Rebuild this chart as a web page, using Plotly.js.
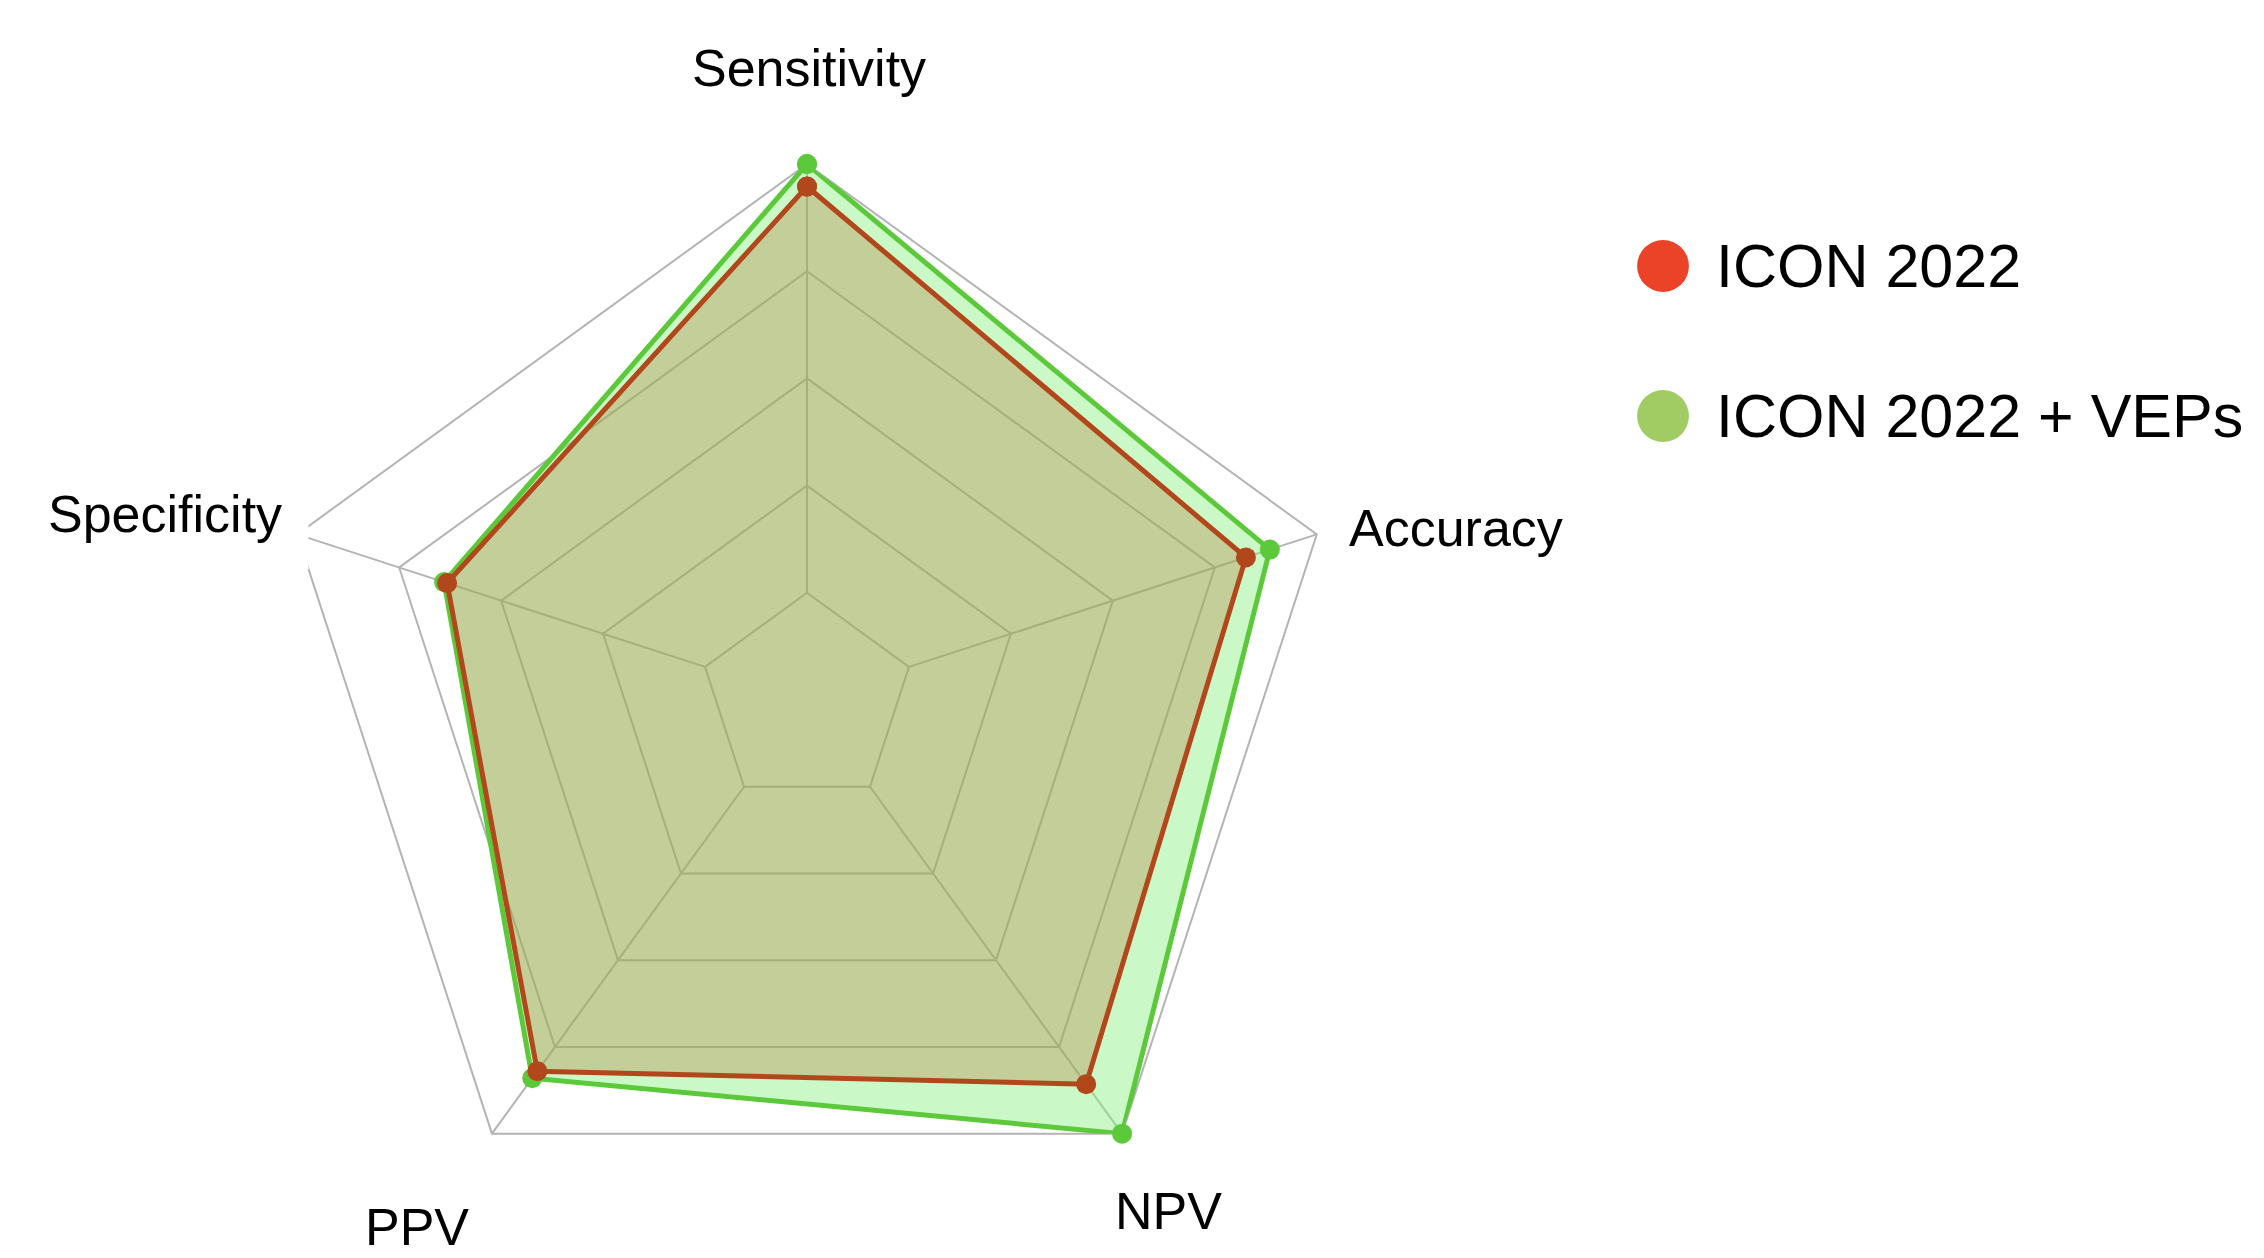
<!DOCTYPE html>
<html>
<head>
<meta charset="utf-8">
<script src="https://cdn.plot.ly/plotly-3.0.1.min.js"></script>
<style>
  html, body { margin: 0; padding: 0; background: #ffffff; }
  #chart { width: 2264px; height: 1258px; }
</style>
</head>
<body>
<div id="chart"></div>
<script>
// ---- data ----
const categories = ['Sensitivity', 'Specificity', 'PPV', 'NPV', 'Accuracy'];
const seriesNames = ['ICON 2022', 'ICON 2022 + VEPs'];
const icon2022 = [95.8, 70.6, 85.6, 88.6, 86.1];
const icon2022Veps = [100, 71.2, 87.2, 100, 90.8];
const ringValues = [20, 40, 60, 80];
const radialRange = [0, 100];

// ---- styles ----
const gridColor = '#b4b4b4';
const FONT = 'Liberation Sans, Arial, Helvetica, sans-serif';

function closed(arr) { return arr.concat([arr[0]]); }

// spokes from the innermost ring to the outer edge
const spokeR = [], spokeT = [];
categories.forEach(c => {
  spokeR.push(ringValues[0], radialRange[1], null);
  spokeT.push(c, c, c);
});

const traces = [
  {
    type: 'scatterpolar', mode: 'lines',
    r: spokeR, theta: spokeT,
    line: {color: gridColor, width: 2},
    hoverinfo: 'skip', showlegend: false
  },
  {
    type: 'scatterpolar', mode: 'lines+markers', name: seriesNames[1],
    r: closed(icon2022Veps), theta: closed(categories),
    fill: 'toself', fillcolor: 'rgba(140,240,130,0.45)',
    line: {color: '#5cc93a', width: 5},
    marker: {color: '#5cc93a', size: 20},
    showlegend: false
  },
  {
    type: 'scatterpolar', mode: 'lines+markers', name: seriesNames[0],
    r: closed(icon2022), theta: closed(categories),
    fill: 'toself', fillcolor: 'rgba(173,93,25,0.27)',
    line: {color: '#b3471c', width: 5},
    marker: {color: '#b3471c', size: 20},
    showlegend: false
  }
];

// category label placement (paper coords) and box padding
const labelPos = {
  'Sensitivity': [0.3573, 0.9459, 0],
  'Specificity': [0.0727, 0.5914, 26],
  'PPV':         [0.1842, 0.0245, 0],
  'NPV':         [0.5161, 0.0370, 0],
  'Accuracy':    [0.6429, 0.5803, 0]
};

const annotations = categories.map(c => ({
  xref: 'paper', yref: 'paper', x: labelPos[c][0], y: labelPos[c][1],
  xanchor: 'center', yanchor: 'middle', showarrow: false,
  text: c, font: {family: FONT, size: 52, color: '#000000'},
  bgcolor: '#ffffff', borderpad: labelPos[c][2]
}));

// legend (custom, large dots)
const legendColors = ['#ea4328', '#a0cc63'];
const legendY = [0.7886, 0.6693];
const dotX = [0.7231, 0.7460];
const dotHalf = 0.0207;
const shapes = [];
seriesNames.forEach((n, i) => {
  shapes.push({
    type: 'circle', xref: 'paper', yref: 'paper',
    x0: dotX[0], x1: dotX[1], y0: legendY[i] - dotHalf, y1: legendY[i] + dotHalf,
    fillcolor: legendColors[i], line: {width: 0}
  });
  annotations.push({
    xref: 'paper', yref: 'paper', x: 0.7571, y: legendY[i],
    xanchor: 'left', yanchor: 'middle', showarrow: false,
    text: n, font: {family: FONT, size: 61, color: '#000000'}
  });
});

const layout = {
  width: 2264, height: 1258,
  margin: {l: 0, r: 0, t: 0, b: 0},
  paper_bgcolor: '#ffffff',
  showlegend: false,
  polar: {
    domain: {x: [0.11970, 0.59320], y: [0.01749, 0.86963]},
    bgcolor: '#ffffff',
    gridshape: 'linear',
    radialaxis: {
      range: radialRange, tickvals: ringValues, showticklabels: false, ticks: '',
      showline: false, gridcolor: gridColor, gridwidth: 2, angle: 90
    },
    angularaxis: {
      type: 'category', categoryorder: 'array', categoryarray: categories,
      direction: 'counterclockwise', rotation: 90,
      showgrid: false, showticklabels: false, ticks: '',
      showline: true, linecolor: gridColor, linewidth: 2, layer: 'below traces'
    }
  },
  shapes: shapes,
  annotations: annotations
};

Plotly.newPlot('chart', traces, layout, {staticPlot: true, displayModeBar: false});
</script>
</body>
</html>
